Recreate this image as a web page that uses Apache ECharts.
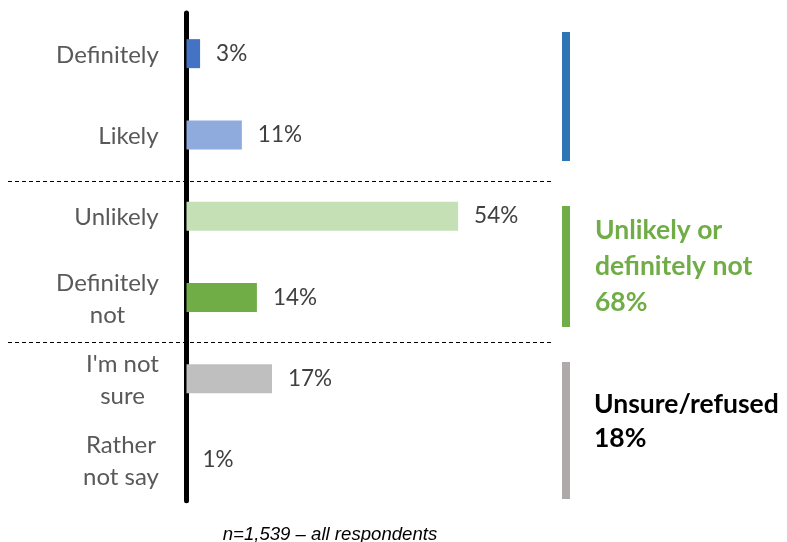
<!DOCTYPE html>
<html>
<head>
<meta charset="utf-8">
<script src="https://cdn.jsdelivr.net/npm/echarts@6/dist/echarts.min.js"></script>
<style>
html,body{margin:0;padding:0;background:#fff;}
#chart{width:787px;height:542px;}
</style>
</head>
<body>
<div id="chart"></div>
<script>
const categories = ['Definitely', 'Likely', 'Unlikely', 'Definitely\nnot', "I'm not\nsure", 'Rather\nnot say'];
const values = [2.7, 11, 54, 14, 17, 0];
const valueLabels = ['3%', '11%', '54%', '14%', '17%', '1%'];
const barColors = ['#4472C4', '#8FAADC', '#C5E0B4', '#70AD47', '#BFBFBF', '#BFBFBF'];
const groupNotes = ['Unlikely or\ndefinitely not\n68%', 'Unsure/refused\n18%'];
const footnote = 'n=1,539 \u2013 all respondents';

const FONT = 'Lato';
const catFontSize = 24;
const valFontSize = 22.5;

// measure widest line of each category so multi-line labels are centred line by line
const cvs = document.createElement('canvas').getContext('2d');
cvs.font = catFontSize + 'px ' + FONT;
const rich = {};
categories.forEach((c, i) => {
  const w = Math.max(...c.split('\n').map(l => cvs.measureText(l).width));
  rich['r' + i] = { width: Math.ceil(w), align: 'center', fontSize: catFontSize, fontFamily: FONT, color: '#595959', lineHeight: 32 };
});

const chart = echarts.init(document.getElementById('chart'));
chart.setOption({
  animation: false,
  grid: { left: 186.5, right: 97.5, top: 13, bottom: 41.3, containLabel: false },
  xAxis: { type: 'value', min: 0, max: 100, show: false },
  yAxis: {
    type: 'category', inverse: true, data: categories, offset: 2.5,
    axisLine: { show: true, lineStyle: { color: '#000', width: 5 } },
    axisTick: { show: false },
    splitLine: { show: false },
    axisLabel: {
      margin: 25, align: 'right', fontFamily: FONT, fontSize: catFontSize, color: '#595959', lineHeight: 32,
      padding: [3, 0, 0, 0],
      formatter: (v, i) => v.split('\n').map(l => '{r' + i + '|' + l + '}').join('\n'),
      rich: rich
    }
  },
  series: [{
    type: 'bar', barWidth: 29,
    data: values.map((v, i) => ({ value: v, itemStyle: { color: barColors[i] } })),
    label: {
      show: true, position: 'right', distance: 16,
      fontFamily: FONT, fontSize: valFontSize, color: '#404040',
      padding: [2, 0, 0, 0],
      formatter: p => valueLabels[p.dataIndex]
    }
  }],
  graphic: [
    { type: 'line', shape: { x1: 8, y1: 181.5, x2: 552, y2: 181.5 }, style: { stroke: '#000', lineWidth: 1, lineDash: [4, 3] } },
    { type: 'line', shape: { x1: 8, y1: 342.5, x2: 552, y2: 342.5 }, style: { stroke: '#000', lineWidth: 1, lineDash: [4, 3] } },
    { type: 'rect', shape: { x: 562, y: 32, width: 8, height: 129 }, style: { fill: '#2E75B6' } },
    { type: 'rect', shape: { x: 562, y: 206, width: 8, height: 121 }, style: { fill: '#70AD47' } },
    { type: 'rect', shape: { x: 562, y: 362, width: 8, height: 137 }, style: { fill: '#AEAAAA' } },
    { type: 'text', left: 595, top: 212, style: { text: groupNotes[0], fill: '#70AD47', font: 'bold 26.5px ' + FONT, lineHeight: 36 } },
    { type: 'text', left: 594, top: 387, style: { text: groupNotes[1], fill: '#000', font: 'bold 26.5px ' + FONT, lineHeight: 34 } },
    { type: 'text', x: 222.7, y: 534.5, style: { text: footnote, fill: '#000', font: 'italic 18.6px "Liberation Sans"', verticalAlign: 'middle' } }
  ]
});
</script>
</body>
</html>
